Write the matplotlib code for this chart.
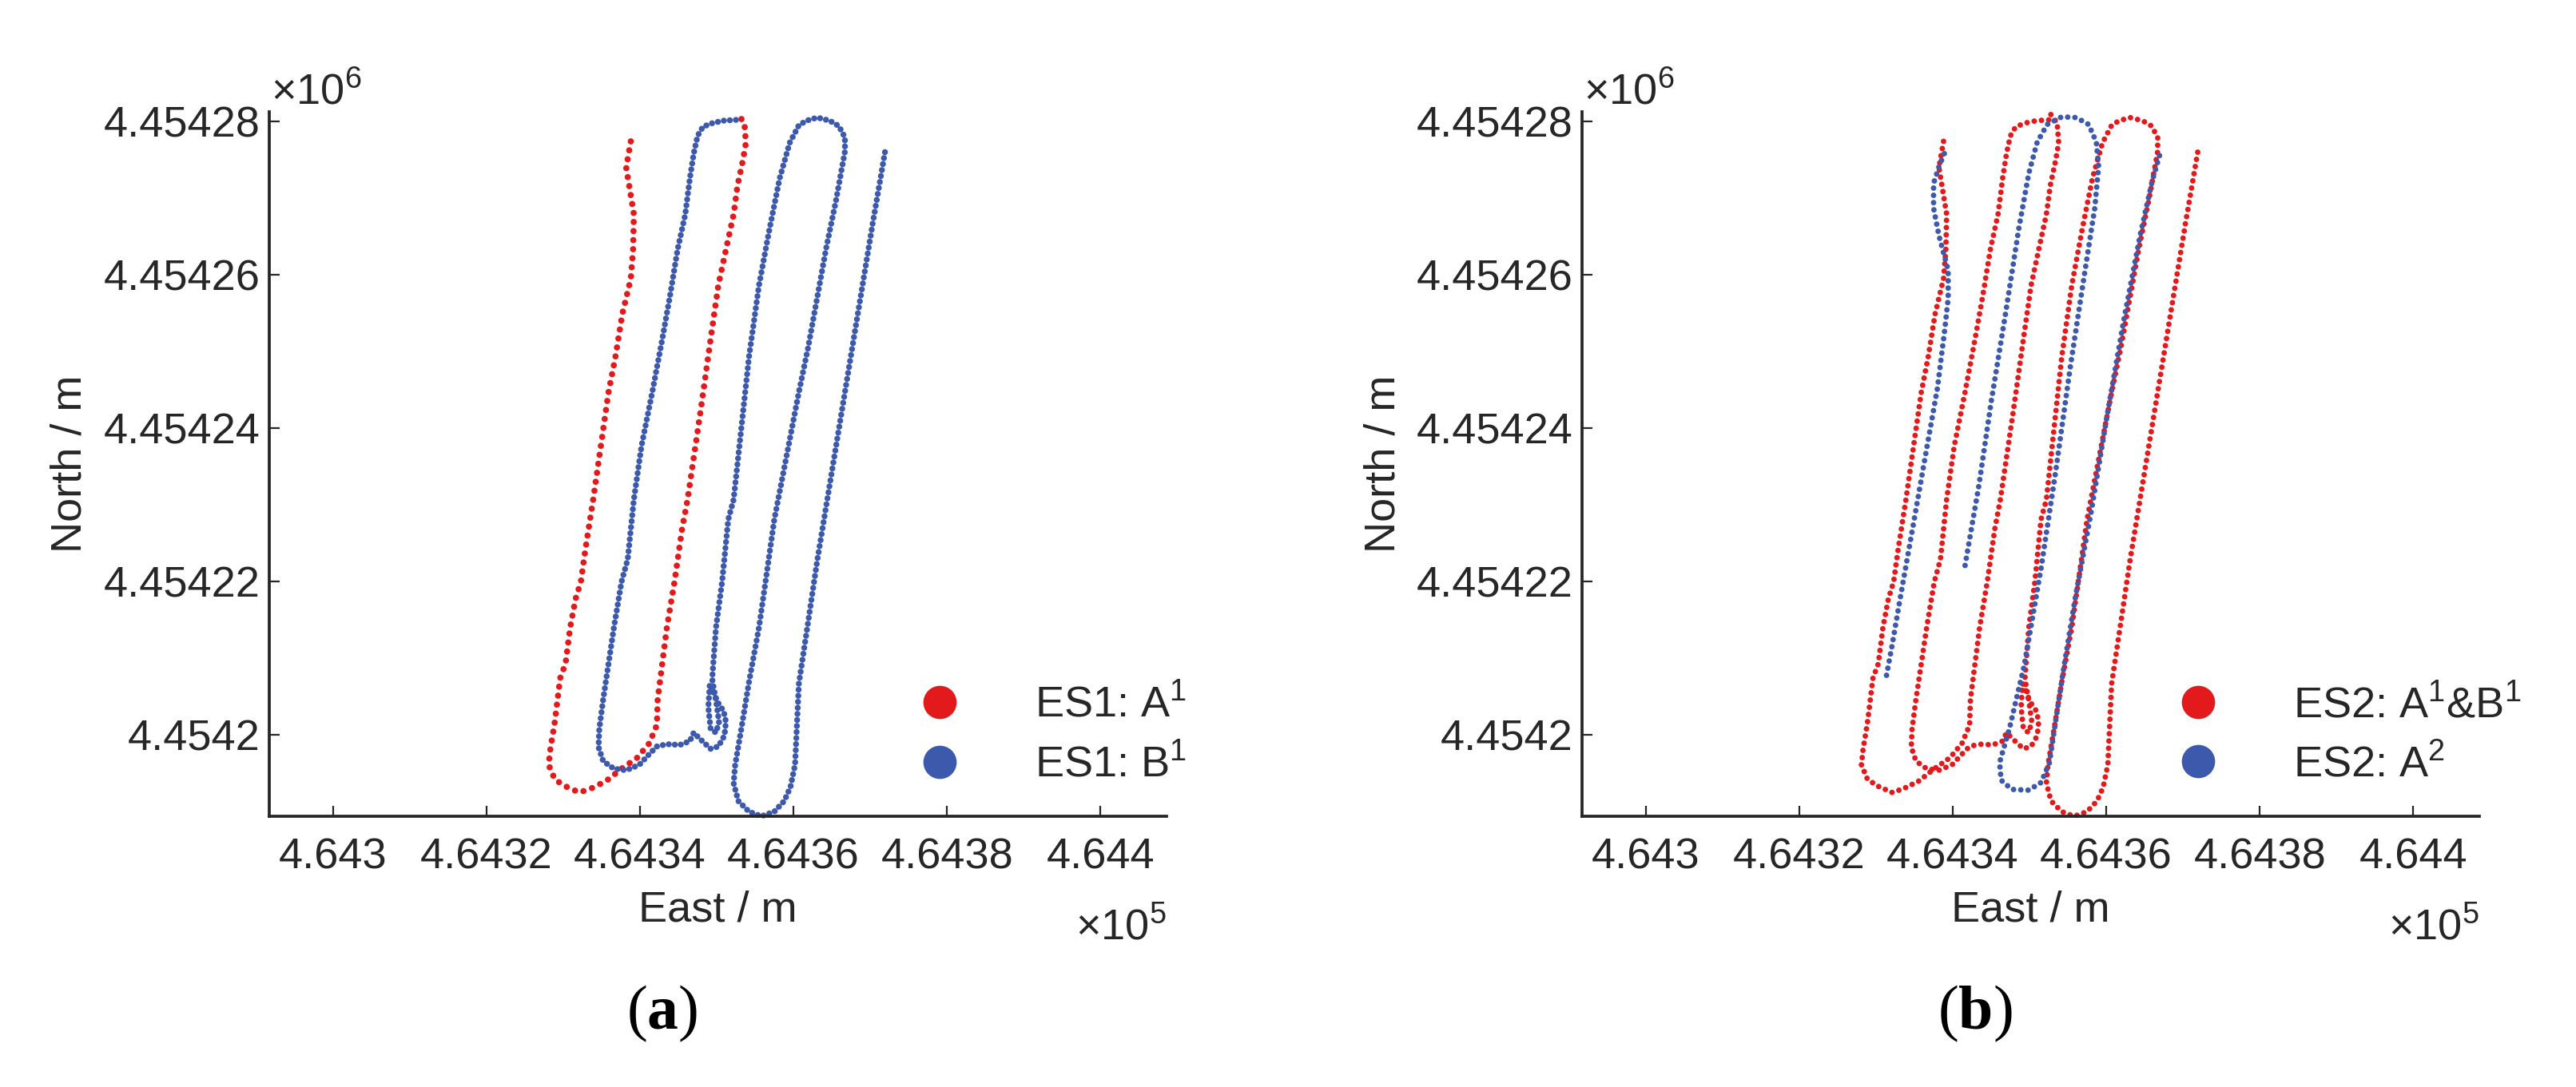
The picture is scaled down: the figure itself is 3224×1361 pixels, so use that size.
import matplotlib
matplotlib.use('Agg')
import numpy as np
import matplotlib.pyplot as plt
from matplotlib.lines import Line2D

# ---------------- data (metres, offsets from the base point) ----------------
E0 = 464300.0      # 4.643 x 10^5
N0 = 4454200.0     # 4.4542 x 10^6

# ES1: A^1 trajectory
a1_east = [38.8, 38.2, 39.2, 39.1, 38.8, 37.7, 36.8, 35.9, 34.9, 33.9, 32.9, 32.3,
           31.6, 30.9, 30.3, 29.6, 28.9, 28.3, 28.1, 28.9, 30.3, 32.1, 33.6, 35.6,
           37.6, 39.6, 41.2, 42.2, 42.3, 42.9, 43.5, 44.5, 45.5, 46.2, 47.9, 49.2,
           50.2, 51.2, 52.2, 52.7, 53.4, 53.8, 53.6, 52.7]
a1_north = [77.4, 74.0, 67.9, 63.3, 59.5, 54.9, 49.3, 44.7, 37.7, 30.7, 24.3, 20.0,
            17.7, 14.0, 9.3, 7.4, 1.7, -2.0, -3.9, -5.8, -6.7, -7.5, -7.0, -6.0,
            -4.4, -3.0, -1.1, 1.3, 4.6, 9.3, 14.0, 20.0, 27.0, 30.7, 42.3, 51.6,
            58.6, 63.3, 67.9, 71.6, 74.9, 77.2, 79.8, 81.0]

# ES1: B^1 trajectory
b1_east = [52.5, 50.9, 49.5, 48.2, 47.5, 47.0, 46.5, 45.9, 44.9, 43.9, 42.9, 41.6,
           40.2, 39.2, 38.4, 37.6, 36.6, 35.9, 35.2, 34.7, 34.6, 35.2, 36.6, 38.2,
           39.9, 41.2, 42.2, 43.5, 45.2, 46.5, 47.0, 47.9, 49.2, 50.2, 51.0, 51.2,
           50.9, 50.1, 49.4, 49.1, 48.9, 49.2, 49.9, 50.3, 49.9, 49.4, 49.9, 50.7,
           51.5, 52.2, 53.2, 54.2, 55.5, 56.8, 58.2, 59.5, 60.7, 61.7, 63.1, 64.7,
           65.9, 66.7, 66.7, 66.3, 65.5, 64.3, 63.1, 61.9, 60.7, 57.5, 56.5, 55.5,
           54.2, 53.2, 52.4, 52.2, 52.8, 54.2, 55.8, 57.5, 58.8, 59.6, 60.2, 60.7,
           61.9, 63.1, 64.3, 65.5, 66.7, 67.9, 69.1, 70.3, 71.3, 72.0]
b1_north = [80.2, 80.1, 79.8, 79.3, 78.1, 75.8, 72.6, 67.9, 63.3, 57.2, 51.6, 44.7,
            37.7, 30.7, 22.9, 20.0, 14.0, 9.3, 4.6, 0.8, -1.6, -3.4, -4.4, -4.6,
            -3.9, -2.5, -1.5, -1.2, -1.3, -0.8, 0.3, -0.6, -1.8, -1.5, -0.1, 1.7,
            3.1, 4.3, 6.0, 6.7, 3.6, 0.8, 0.3, 1.7, 4.5, 7.3, 14.0, 20.0,
            28.1, 30.7, 40.0, 49.3, 58.6, 65.6, 72.6, 77.2, 79.5, 80.1, 80.5, 80.1,
            79.4, 77.9, 76.1, 73.9, 69.5, 63.7, 57.1, 50.5, 44.7, 28.1, 21.0, 14.0,
            6.9, 0.8, -3.9, -6.3, -8.6, -10.0, -10.6, -10.0, -8.6, -6.8, -3.9, 6.7,
            14.7, 22.8, 30.1, 37.4, 44.7, 52.0, 59.3, 66.6, 72.4, 76.5]

# ES2: A^2 trajectory (two recorded pieces)
a2_west_east = [38.9, 38.2, 37.5, 37.5, 38.2, 39.4, 39.4, 38.9, 38.0, 36.4, 34.8,
                33.2, 32.1, 31.3]
a2_west_north = [75.8, 74.1, 71.9, 68.7, 65.1, 60.6, 56.9, 52.4, 45.2, 36.2, 27.1,
                 18.1, 11.7, 7.4]
a2_loop_east = [41.6, 43.4, 45.0, 46.9, 48.6, 49.9, 51.0, 52.3, 54.2, 56.1, 57.7,
                58.7, 59.0, 58.5, 57.1, 55.3, 53.4, 51.5, 49.3, 47.4, 46.1, 46.3,
                47.7, 49.9, 51.5, 52.6, 53.4, 54.5, 56.0, 58.0, 60.1, 62.3, 64.4,
                66.0, 67.1]
a2_loop_north = [22.1, 32.5, 43.4, 55.1, 66.0, 73.2, 77.3, 79.6, 80.6, 80.5, 79.6,
                 77.3, 74.1, 68.7, 59.7, 47.9, 34.3, 21.7, 9.0, 0.9, -3.6, -5.9,
                 -7.1, -7.2, -6.2, -3.6, 1.8, 9.0, 18.1, 28.9, 41.6, 54.2, 65.1,
                 72.3, 76.1]

x_ticks = [0, 20, 40, 60, 80, 100]
x_tick_labels = ['4.643', '4.6432', '4.6434', '4.6436', '4.6438', '4.644']
y_ticks = [0, 20, 40, 60, 80]
y_tick_labels = ['4.4542', '4.45422', '4.45424', '4.45426', '4.45428']

legend_a = ['ES1: A$^{\\mathregular{1}}$', 'ES1: B$^{\\mathregular{1}}$']
legend_b = ['ES2: A$^{\\mathregular{1}}$&B$^{\\mathregular{1}}$', 'ES2: A$^{\\mathregular{2}}$']
panel_tags = ['a', 'b']

# ---------------- style ----------------
RED = '#E31A1C'
BLUE = '#3D59AB'
INK = '#262626'
FS = 39

plt.rcParams['font.family'] = ['Liberation Sans', 'DejaVu Sans']
plt.rcParams['mathtext.fontset'] = 'custom'
plt.rcParams['mathtext.bf'] = 'Liberation Serif:bold'

W, H = 3224, 1361
fig = plt.figure(figsize=(W / 100, H / 100), dpi=100)
fig.patch.set_facecolor('white')


def fx(px):
    return px / W


def fy(py):
    return 1 - py / H


AX_W, AX_TOP, AX_BOT = 1123, 140, 1022
panel_left = [337, 1980]


def dotted(ax, e, n, color, lw, gap):
    ax.plot(E0 + np.asarray(e), N0 + np.asarray(n), color=color, lw=lw,
            linestyle=(0, (0.01, gap)), dash_capstyle='round',
            solid_capstyle='round', clip_on=False)


axes = []
for left in panel_left:
    ax = fig.add_axes([fx(left), fy(AX_BOT), AX_W / W, (AX_BOT - AX_TOP) / H])
    ax.set_xlim(E0 - 8.3, E0 + 108.6)
    ax.set_ylim(N0 - 10.6, N0 + 81.25)
    for s in ['top', 'right']:
        ax.spines[s].set_visible(False)
    for s in ['left', 'bottom']:
        ax.spines[s].set_linewidth(2.7)
        ax.spines[s].set_color(INK)
    ax.set_xticks([E0 + t for t in x_ticks])
    ax.set_xticklabels(x_tick_labels)
    ax.set_yticks([N0 + t for t in y_ticks])
    ax.set_yticklabels(y_tick_labels)
    ax.tick_params(direction='in', length=9.5, width=1.6, color=INK,
                   labelsize=FS, labelcolor=INK)
    ax.tick_params(axis='x', pad=19)
    ax.tick_params(axis='y', pad=8)
    axes.append(ax)

# panel (a)
dotted(axes[0], a1_east, a1_north, RED, 5.6, 1.45)
dotted(axes[0], b1_east, b1_north, BLUE, 5.4, 1.0)
# panel (b)
dotted(axes[1], a1_east, a1_north, RED, 5.0, 1.3)
dotted(axes[1], b1_east, b1_north, RED, 5.0, 1.3)
dotted(axes[1], a2_west_east, a2_west_north, BLUE, 5.0, 1.3)
dotted(axes[1], a2_loop_east, a2_loop_north, BLUE, 5.0, 1.3)

for ax, left, labels, tag in zip(axes, panel_left, [legend_a, legend_b], panel_tags):
    handles = [Line2D([], [], ls='none', marker='o', ms=29, color=c, mec=c)
               for c in [RED, BLUE]]
    mk_x = left + (1176 - 337) if left == 337 else 2751
    ax.legend(handles, labels, loc='center left',
              bbox_to_anchor=(fx(mk_x - 54), fy(920)),
              bbox_transform=fig.transFigure, frameon=False, fontsize=FS,
              borderpad=0, borderaxespad=0, handlelength=2.0,
              handletextpad=1.2, labelspacing=0.42, labelcolor=INK)
    cx = left + AX_W / 2
    fig.text(fx(cx), fy(1139), 'East / m', ha='center', va='center',
             fontsize=FS, color=INK)
    fig.text(fx(left - 249), fy((AX_TOP + AX_BOT) / 2), 'North / m',
             ha='center', va='center', rotation=90, fontsize=FS, color=INK)
    fig.text(fx(left + 2), fy(130), '\u00d710$^{\\mathregular{6}}$',
             ha='left', va='baseline', fontsize=FS, color=INK)
    fig.text(fx(left + AX_W), fy(1176), '\u00d710$^{\\mathregular{5}}$',
             ha='right', va='baseline', fontsize=FS, color=INK)
    fig.text(fx(left + 492), fy(1269), '($\\mathbf{%s}$)' % tag,
             ha='center', va='center', fontsize=56, color='black',
             family=['Liberation Serif', 'DejaVu Serif'])

fig.savefig('out.png', dpi=100, facecolor='white')
